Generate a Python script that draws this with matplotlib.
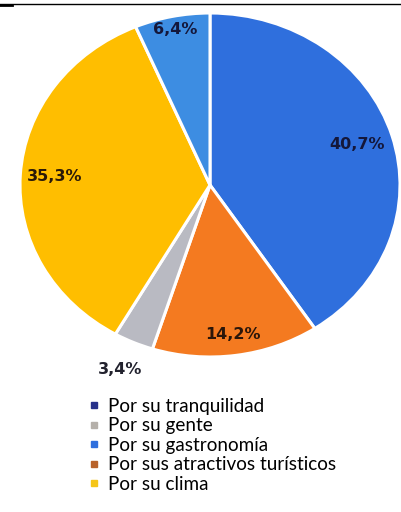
import matplotlib
matplotlib.use("Agg")
import matplotlib.pyplot as plt
import numpy as np
from matplotlib.lines import Line2D

# Porcentajes (orden horario desde arriba)
slice_labels = ["Por su tranquilidad", "Por sus atractivos turísticos",
                "Por su gente", "Por su clima", "Por su gastronomía"]
slice_values = [40.7, 14.2, 3.4, 35.3, 6.4]
slice_colors = ["#2F6FDD", "#F47A20", "#B9BAC2", "#FFBE00", "#3D8DE2"]
pct_text = ["40,7%", "14,2%", "3,4%", "35,3%", "6,4%"]
label_r = [0.81, 0.88, 1.17, 0.82, 0.92]
text_colors = ["#14173A", "#2B160A", "#22222E", "#2B1A08", "#14173A"]

# Leyenda (orden original)
legend_labels = ["Por su tranquilidad", "Por su gente", "Por su gastronomía",
                 "Por sus atractivos turísticos", "Por su clima"]
legend_colors = ["#27318A", "#B5B0AA", "#2F6FDD", "#B8622A", "#F5C518"]

W, H = 401, 512
fig = plt.figure(figsize=(W / 100, H / 100), dpi=100)
fig.patch.set_facecolor("white")

# pie ligeramente elíptico, como en la imagen original
cx, cy, rx, ry = 210, 185, 190, 172
ax = fig.add_axes([(cx - rx) / W, (H - cy - ry) / H, 2 * rx / W, 2 * ry / H])
wedges, _ = ax.pie(slice_values, colors=slice_colors, startangle=90,
                   counterclock=False,
                   wedgeprops=dict(edgecolor="white", linewidth=2.2))
ax.set_aspect("auto")
ax.set_xlim(-1, 1)
ax.set_ylim(-1, 1)
ax.axis("off")

for w, txt, r, c in zip(wedges, pct_text, label_r, text_colors):
    ang = np.deg2rad((w.theta1 + w.theta2) / 2)
    ax.text(r * np.cos(ang), r * np.sin(ang), txt, ha="center", va="center",
            fontsize=11.5, fontweight="bold", color=c, family="DejaVu Sans",
            clip_on=False)

handles = [Line2D([], [], marker="s", linestyle="", markersize=5,
                  markerfacecolor=c, markeredgecolor=c) for c in legend_colors]
fig.legend(handles, legend_labels, loc="upper left",
           bbox_to_anchor=(88 / W, 1 - 398 / H), frameon=False,
           prop={"family": "Lato", "size": 13.6}, handlelength=0.6,
           handletextpad=0.45, labelspacing=0.13, borderpad=0, borderaxespad=0)

# línea negra superior
fig.add_artist(Line2D([0, 1], [1 - 3.5 / H, 1 - 3.5 / H], color="black",
                      linewidth=1.0, transform=fig.transFigure))
fig.add_artist(Line2D([0, 12 / W], [1 - 4.5 / H, 1 - 4.5 / H], color="black",
                      linewidth=2.0, transform=fig.transFigure))

fig.savefig("out.png", dpi=100, facecolor="white")
